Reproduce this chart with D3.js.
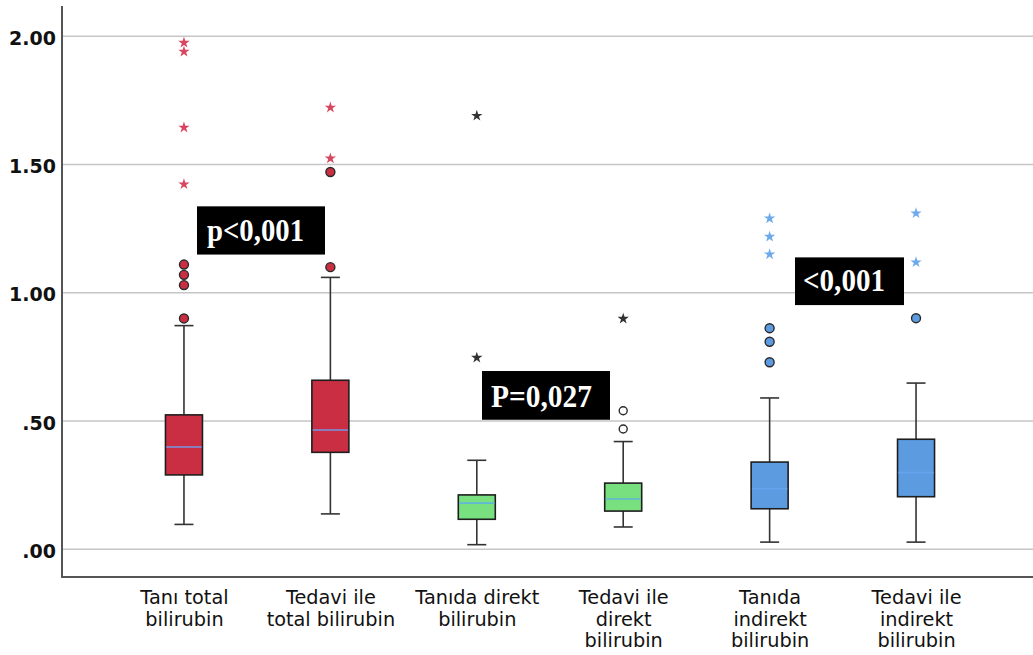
<!DOCTYPE html>
<html>
<head>
<meta charset="utf-8">
<script src="https://cdn.jsdelivr.net/npm/d3@7"></script>
<style>
  html, body { margin: 0; padding: 0; background: #fff; }
  svg { display: block; }
</style>
</head>
<body>
<svg id="chart" width="1033" height="655"></svg>
<script>
// Category labels (one array of lines per group)
const categories = ["TT0", "TT1", "DB0", "DB1", "IB0", "IB1"];
const categoryLines = [
  ["Tanı total", "bilirubin"],
  ["Tedavi ile", "total bilirubin"],
  ["Tanıda direkt", "bilirubin"],
  ["Tedavi ile", "direkt", "bilirubin"],
  ["Tanıda", "indirekt", "bilirubin"],
  ["Tedavi ile", "indirekt", "bilirubin"]
];

// Box statistics per group
const whiskerLow  = [0.097, 0.138, 0.018, 0.087, 0.028, 0.028];
const q1          = [0.290, 0.378, 0.117, 0.149, 0.158, 0.205];
const medians     = [0.399, 0.465, 0.180, 0.196, 0.236, 0.299];
const q3          = [0.524, 0.659, 0.212, 0.258, 0.340, 0.429];
const whiskerHigh = [0.872, 1.060, 0.347, 0.420, 0.590, 0.648];

// Outliers (circles) and extreme values (stars)
const outliers = [
  [0.900, 1.030, 1.070, 1.110],
  [1.100, 1.471],
  [],
  [0.469, 0.540],
  [0.729, 0.809, 0.862],
  [0.901]
];
const extremes = [
  [1.423, 1.644, 1.940, 1.975],
  [1.524, 1.722],
  [0.747, 1.690],
  [0.899],
  [1.150, 1.219, 1.290],
  [1.119, 1.310]
];

// Axis ticks
const yTicks = [0, 0.5, 1, 1.5, 2];
const yTickLabels = [".00", ".50", "1.00", "1.50", "2.00"];

// Significance annotations
const pLabels = ["p<0,001", "P=0,027", "<0,001"];

// Group colours
const boxFill    = ["#c92e42", "#c92e42", "#78e07f", "#78e07f", "#5c9be0", "#5c9be0"];
const medianCol  = ["#7596e3", "#7596e3", "#5fb6d6", "#5fb6d6", "#64a4ec", "#64a4ec"];
const outlierFill = ["#c92e42", "#c92e42", "#ffffff", "#ffffff", "#5c9be0", "#5c9be0"];
const starCol    = ["#d8475f", "#d8475f", "#333333", "#333333", "#6ea9ec", "#6ea9ec"];

const svg = d3.select("#chart");
const W = 1033, H = 655;
const plotLeft = 62, plotBottom = 577, plotTop = 6;

const y = d3.scaleLinear().domain([-0.108, 2.118]).range([plotBottom, plotTop]);
const x = d3.scalePoint().domain(categories).range([plotLeft, 1038]).padding(0.833);

// Gridlines
svg.append("g").selectAll("line").data(yTicks).join("line")
  .attr("x1", plotLeft).attr("x2", W)
  .attr("y1", d => y(d)).attr("y2", d => y(d))
  .attr("stroke", "#c6c6c6").attr("stroke-width", 1.5);

// Y axis
const yAxis = d3.axisLeft(y).tickValues(yTicks).tickSize(0).tickPadding(6)
  .tickFormat((d, i) => yTickLabels[i]);
const gy = svg.append("g").attr("transform", `translate(${plotLeft},0)`).call(yAxis);
gy.select(".domain").remove();
gy.selectAll("text")
  .attr("font-family", "DejaVu Sans, sans-serif")
  .attr("font-weight", "bold")
  .attr("font-size", 19)
  .attr("fill", "#111")
  .attr("dy", "0.42em");

// X axis with multi-line labels
const xAxis = d3.axisBottom(x).tickSize(0).tickFormat("");
const gx = svg.append("g").attr("transform", `translate(0,${plotBottom})`).call(xAxis);
gx.select(".domain").remove();
gx.selectAll(".tick").each(function (d, i) {
  const t = d3.select(this).append("text")
    .attr("text-anchor", "middle")
    .attr("font-family", "DejaVu Sans, sans-serif")
    .attr("font-size", 19.3)
    .attr("fill", "#111");
  categoryLines[i].forEach((line, k) => {
    t.append("tspan").attr("x", 0).attr("y", 27 + k * 21.5).text(line);
  });
});

// Axis lines
svg.append("line").attr("x1", plotLeft).attr("x2", plotLeft).attr("y1", plotTop).attr("y2", plotBottom)
  .attr("stroke", "#555").attr("stroke-width", 2);
svg.append("line").attr("x1", plotLeft - 1).attr("x2", W).attr("y1", plotBottom).attr("y2", plotBottom)
  .attr("stroke", "#555").attr("stroke-width", 2);

// Boxes
const boxW = 37, capW = 19;
const groups = svg.append("g").selectAll("g").data(categories).join("g")
  .attr("transform", d => `translate(${x(d)},0)`);

groups.append("line").attr("class", "whisker")
  .attr("x1", 0).attr("x2", 0)
  .attr("y1", (d, i) => y(whiskerHigh[i])).attr("y2", (d, i) => y(whiskerLow[i]))
  .attr("stroke", "#333").attr("stroke-width", 1.6);
groups.append("line")
  .attr("x1", -capW / 2).attr("x2", capW / 2)
  .attr("y1", (d, i) => y(whiskerHigh[i])).attr("y2", (d, i) => y(whiskerHigh[i]))
  .attr("stroke", "#333").attr("stroke-width", 1.6);
groups.append("line")
  .attr("x1", -capW / 2).attr("x2", capW / 2)
  .attr("y1", (d, i) => y(whiskerLow[i])).attr("y2", (d, i) => y(whiskerLow[i]))
  .attr("stroke", "#333").attr("stroke-width", 1.6);

groups.append("rect")
  .attr("x", -boxW / 2).attr("width", boxW)
  .attr("y", (d, i) => y(q3[i]))
  .attr("height", (d, i) => y(q1[i]) - y(q3[i]))
  .attr("fill", (d, i) => boxFill[i])
  .attr("stroke", "#1e1e1e").attr("stroke-width", 1.6);

groups.append("line")
  .attr("x1", -boxW / 2 + 0.8).attr("x2", boxW / 2 - 0.8)
  .attr("y1", (d, i) => y(medians[i])).attr("y2", (d, i) => y(medians[i]))
  .attr("stroke", (d, i) => medianCol[i]).attr("stroke-width", 1.6);

// Outlier circles and extreme-value stars
groups.each(function (d, i) {
  const g = d3.select(this);
  g.selectAll("circle.out").data(outliers[i]).join("circle")
    .attr("class", "out")
    .attr("cx", 0).attr("cy", v => y(v))
    .attr("r", i === 2 || i === 3 ? 4 : 4.5)
    .attr("fill", outlierFill[i])
    .attr("stroke", "#2a2a2a").attr("stroke-width", 1.4);
  g.selectAll("path.ext").data(extremes[i]).join("path")
    .attr("class", "ext")
    .attr("d", d3.symbol().type(d3.symbolStar).size(40))
    .attr("transform", v => `translate(0,${y(v)})`)
    .attr("fill", starCol[i]);
});

// Significance labels
const pBoxes = [
  { x0: 197, x1: 325, v0: 1.337, v1: 1.149, tx: 207, tw: 97, base: 1.201 },
  { x0: 482, x1: 610, v0: 0.695, v1: 0.505, tx: 491, tw: 101, base: 0.556 },
  { x0: 795, x1: 904, v0: 1.138, v1: 0.952, tx: 803, tw: 82, base: 1.006 }
];
const pg = svg.append("g").selectAll("g").data(pLabels).join("g");
pg.append("rect")
  .attr("x", (d, i) => pBoxes[i].x0)
  .attr("width", (d, i) => pBoxes[i].x1 - pBoxes[i].x0)
  .attr("y", (d, i) => y(pBoxes[i].v0))
  .attr("height", (d, i) => y(pBoxes[i].v1) - y(pBoxes[i].v0))
  .attr("fill", "#000");
pg.append("text")
  .attr("x", (d, i) => pBoxes[i].tx)
  .attr("y", (d, i) => y(pBoxes[i].base))
  .attr("textLength", (d, i) => pBoxes[i].tw)
  .attr("lengthAdjust", "spacingAndGlyphs")
  .attr("font-family", "Liberation Serif, Times New Roman, serif")
  .attr("font-weight", "bold")
  .attr("font-size", 31)
  .attr("fill", "#fff")
  .text(d => d);
</script>
</body>
</html>
